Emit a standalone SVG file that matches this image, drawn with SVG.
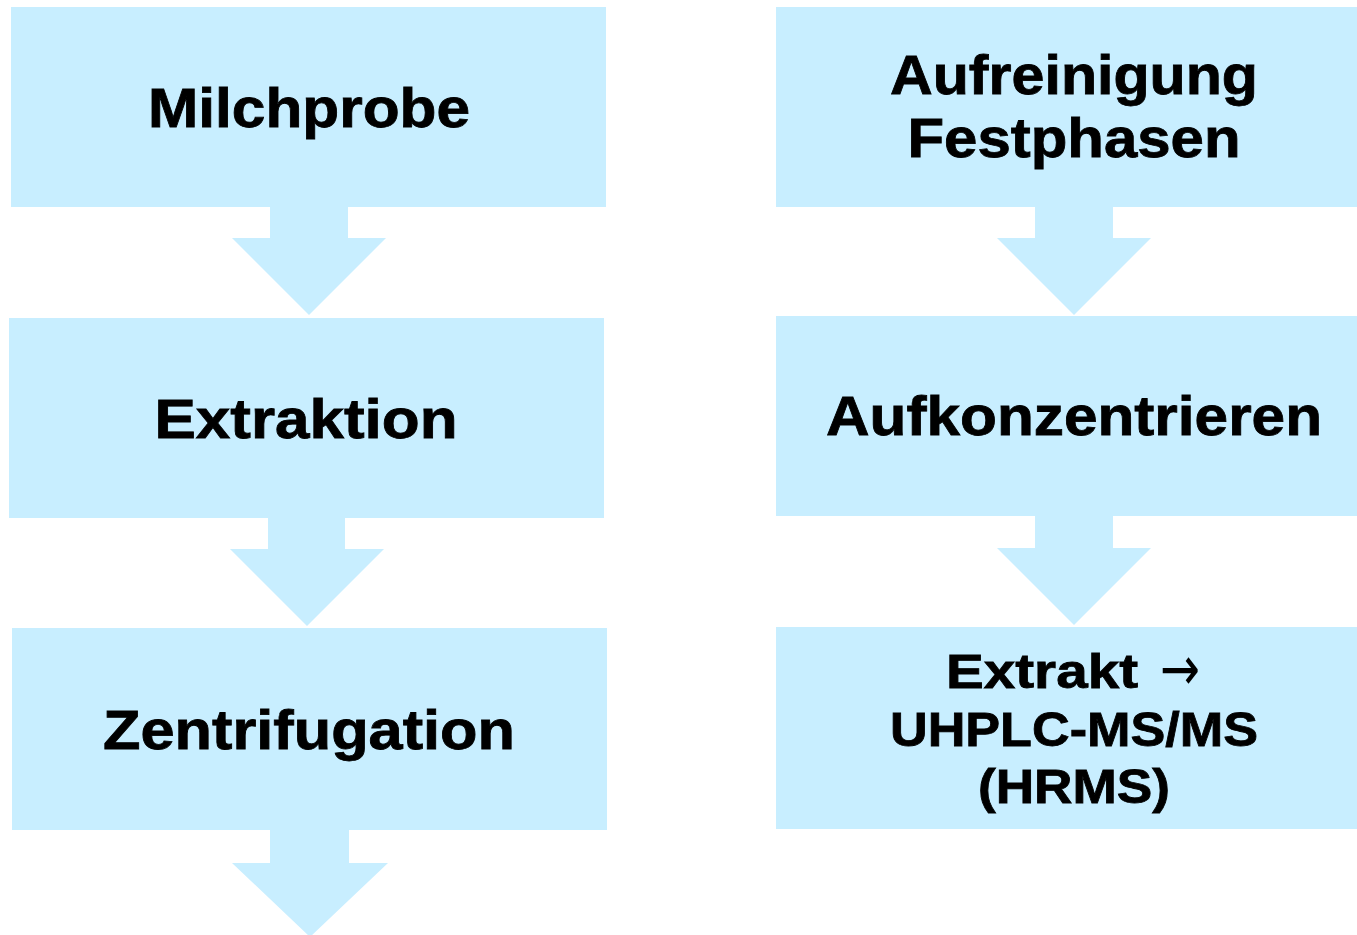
<svg xmlns="http://www.w3.org/2000/svg" width="1357" height="935" viewBox="0 0 1357 935">
<style>
.box{fill:#C8EEFF}
.arr{fill:#C8EEFF}
.t{font-family:"Liberation Sans",Arial,sans-serif;font-weight:bold;fill:#000;text-anchor:middle;stroke:#000;stroke-width:0.8}
.big{font-size:55px}
.mid{font-size:48px}
.sym{font-family:"DejaVu Sans",sans-serif;font-size:62px;fill:#000}
</style>
<rect width="1357" height="935" fill="#FFFFFF"/>
<g id="connectors">
<polygon class="arr" points="270,207 348,207 348,238 386,238 309,315 232,238 270,238"/>
<polygon class="arr" points="268,518 345,518 345,549 384,549 307,626 230,549 268,549"/>
<polygon class="arr" points="270,830 349,830 349,863 388,863 310,937 232,863 270,863"/>
<polygon class="arr" points="1035,207 1113,207 1113,238 1151,238 1074,315 997,238 1035,238"/>
<polygon class="arr" points="1035,516 1113,516 1113,548 1151,548 1074,625 997,548 1035,548"/>
</g>
<g id="milchprobe">
<rect class="box" x="11" y="7" width="595" height="200"/>
<text class="t big" x="309" y="127" textLength="322" lengthAdjust="spacingAndGlyphs">Milchprobe</text>
</g>
<g id="extraktion">
<rect class="box" x="9" y="318" width="595" height="200"/>
<text class="t big" x="306" y="438" textLength="303" lengthAdjust="spacingAndGlyphs">Extraktion</text>
</g>
<g id="zentrifugation">
<rect class="box" x="12" y="628" width="595" height="202"/>
<text class="t big" x="309" y="749" textLength="412" lengthAdjust="spacingAndGlyphs">Zentrifugation</text>
</g>
<g id="aufreinigung">
<rect class="box" x="776" y="7" width="581" height="200"/>
<text class="t big" x="1074" y="94" textLength="368" lengthAdjust="spacingAndGlyphs">Aufreinigung</text>
<text class="t big" x="1074" y="157" textLength="333" lengthAdjust="spacingAndGlyphs">Festphasen</text>
</g>
<g id="aufkonzentrieren">
<rect class="box" x="776" y="316" width="581" height="200"/>
<text class="t big" x="1074" y="435" textLength="496" lengthAdjust="spacingAndGlyphs">Aufkonzentrieren</text>
</g>
<g id="extrakt">
<rect class="box" x="776" y="627" width="581" height="202"/>
<text class="t mid" x="1042" y="688" textLength="192" lengthAdjust="spacingAndGlyphs">Extrakt</text>
<text class="sym" x="1180" y="690" text-anchor="middle" textLength="40" lengthAdjust="spacingAndGlyphs">→</text>
<text class="t mid" x="1074" y="746" textLength="368" lengthAdjust="spacingAndGlyphs">UHPLC-MS/MS</text>
<text class="t mid" x="1074" y="803" textLength="192" lengthAdjust="spacingAndGlyphs">(HRMS)</text>
</g>
</svg>
